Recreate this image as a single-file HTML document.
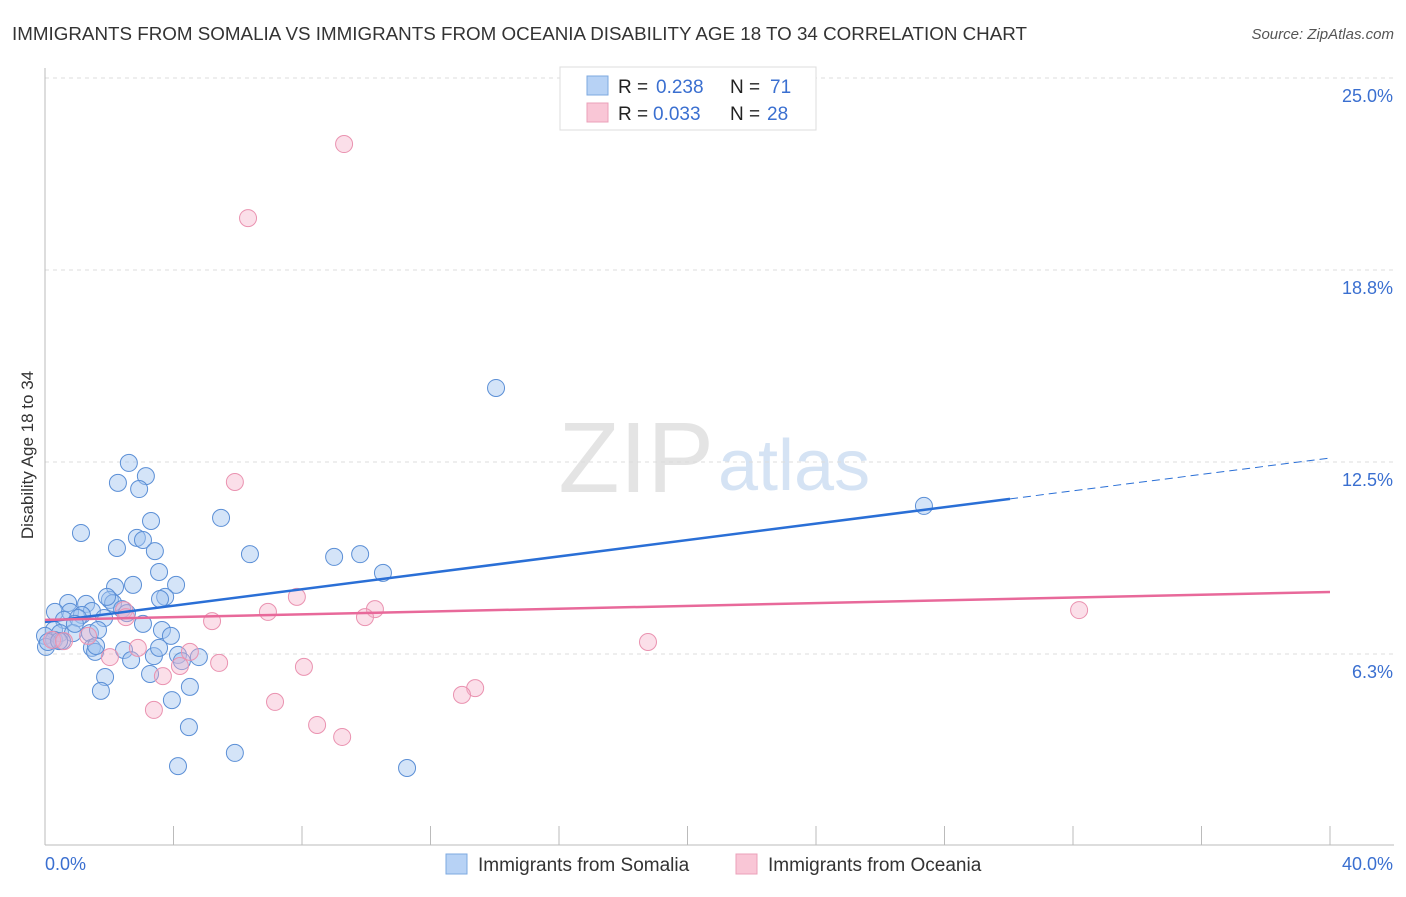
<!DOCTYPE html>
<html><head><meta charset="utf-8"><style>
body{margin:0;background:#fff;font-family:"Liberation Sans",sans-serif;}
svg text{font-family:"Liberation Sans",sans-serif;}
</style></head><body>
<svg id="chart" width="1406" height="892">
<text x="12" y="40" font-size="18" fill="#333" textLength="1015" lengthAdjust="spacingAndGlyphs">IMMIGRANTS FROM SOMALIA VS IMMIGRANTS FROM OCEANIA DISABILITY AGE 18 TO 34 CORRELATION CHART</text>
<text x="1394" y="39" font-size="15" fill="#555" font-style="italic" text-anchor="end">Source: ZipAtlas.com</text>
<text x="714" y="492" font-size="100" fill="#e4e4e4" text-anchor="end" font-family="Liberation Serif">ZIP</text>
<text x="718" y="490" font-size="72" fill="#d5e3f4">atlas</text>
<g id="grid"></g><g id="axes"></g><g id="pts"></g><g id="trend"></g>
<text x="33" y="455" font-size="17" fill="#333" text-anchor="middle" transform="rotate(-90 33 455)">Disability Age 18 to 34</text>
<g>
<rect x="560" y="67" width="256" height="63" fill="#fff" stroke="#ddd"/>
<rect x="587" y="76" width="21" height="19" fill="#b7d2f5" stroke="#7ea9e0"/>
<rect x="587" y="103" width="21" height="19" fill="#f9c6d6" stroke="#eba0b9"/>
<text x="618" y="93" font-size="19" fill="#222">R = <tspan x="656" fill="#3a6fd0">0.238</tspan></text>
<text x="730" y="93" font-size="19" fill="#222">N = <tspan x="770" fill="#3a6fd0">71</tspan></text>
<text x="618" y="120" font-size="19" fill="#222">R = <tspan x="653" fill="#3a6fd0">0.033</tspan></text>
<text x="730" y="120" font-size="19" fill="#222">N = <tspan x="767" fill="#3a6fd0">28</tspan></text>
</g>
<g>
<rect x="446" y="854" width="21" height="20" fill="#b7d2f5" stroke="#7ea9e0"/>
<text x="478" y="871" font-size="19" fill="#333">Immigrants from Somalia</text>
<rect x="736" y="854" width="21" height="20" fill="#f9c6d6" stroke="#eba0b9"/>
<text x="768" y="871" font-size="19" fill="#333">Immigrants from Oceania</text>
</g>
</svg>
<script>
const yTicks=[6.25,12.5,18.75,25];
const yTickLabels=["6.3%","12.5%","18.8%","25.0%"];
const xTickCount=10;
const xLabels=["0.0%","40.0%"];
const somaliaX=[2.61,2.27,3.14,2.93,3.30,1.12,2.24,2.86,3.05,3.42,5.48,6.38,9.00,9.81,10.52,14.04,27.36,3.55,2.74,4.08,2.18,3.74,3.58,2.02,2.12,1.28,0.72,0.31,0.78,1.46,1.84,2.40,2.55,0.59,1.15,1.03,0.28,0,0.47,0.87,1.40,1.65,3.05,3.64,3.92,0.28,0.53,0.03,1.46,1.56,1.59,2.46,2.68,3.39,3.55,4.14,4.26,4.79,3.27,1.87,1.74,4.51,3.95,4.48,5.91,4.14,11.27,0.09,0.44,0.93,1.93];
const somaliaY=[12.47,11.82,12.04,11.62,10.58,10.19,9.70,10.03,9.96,9.60,10.68,9.50,9.41,9.50,8.89,14.91,11.07,8.92,8.50,8.50,8.43,8.11,8.04,8.01,7.91,7.88,7.91,7.62,7.62,7.65,7.42,7.71,7.58,7.36,7.52,7.42,7.03,6.84,6.93,6.93,6.93,7.03,7.23,7.03,6.84,6.71,6.67,6.48,6.45,6.32,6.51,6.38,6.05,6.18,6.45,6.22,6.02,6.15,5.60,5.50,5.05,5.18,4.75,3.87,3.03,2.60,2.54,6.64,6.67,7.23,8.11];
const oceaniaX=[9.31,6.32,5.91,2.46,2.52,6.94,7.84,10.27,9.96,5.20,32.19,18.77,2.89,4.51,2.02,4.20,5.42,8.06,3.67,0.22,0.59,1.34,13.39,12.98,7.16,3.39,8.47,9.25];
const oceaniaY=[22.85,20.44,11.85,7.68,7.45,7.62,8.11,7.71,7.45,7.32,7.68,6.64,6.45,6.32,6.15,5.86,5.96,5.83,5.53,6.71,6.67,6.84,5.14,4.92,4.69,4.43,3.94,3.55];
const somaliaTrend=[7.29,12.63];
const oceaniaTrend=[7.36,8.27];
const somaliaSolidEnd=30.04;
const NS="http://www.w3.org/2000/svg";
const X=v=>45+v*32.125;
const Y=v=>654-(v-6.25)*30.72;
function mk(parent,tag,attrs){const e=document.createElementNS(NS,tag);for(const k in attrs)e.setAttribute(k,attrs[k]);document.getElementById(parent).appendChild(e);return e;}
yTicks.forEach((t,i)=>{
 const l=mk('grid','line',{x1:45,x2:1394,y1:Y(t),y2:Y(t),stroke:'#ddd','stroke-dasharray':'4,4'});
 
 
 const tx=mk('grid','text',{x:1393,y:Y(t)+24,'font-size':18,fill:'#3a6fd0','text-anchor':'end'});
 tx.textContent=yTickLabels[i];
 
 
});
const ax=mk('axes','line',{x1:45,x2:45,y1:68,y2:845,stroke:'#bbb'});


const bx=mk('axes','line',{x1:45,x2:1394,y1:845,y2:845,stroke:'#bbb'});


for(let i=0;i<=xTickCount;i++){
 const t=mk('axes','line',{x1:X(i*4),x2:X(i*4),y1:826,y2:845,stroke:'#bbb'});
 
 
}
[[45,'start'],[1393,'end']].forEach((p,i)=>{
 const t=mk('axes','text',{x:p[0],y:870,'font-size':18,fill:'#3a6fd0','text-anchor':p[1]});
 t.textContent=xLabels[i];
 
 
});
somaliaX.forEach((x,i)=>{
 const c=mk('pts','circle',{cx:X(x),cy:Y(somaliaY[i]),r:8.5,fill:'rgba(160,196,240,0.45)',stroke:'#5b8fd6','stroke-width':1});
 
 
});
oceaniaX.forEach((x,i)=>{
 const c=mk('pts','circle',{cx:X(x),cy:Y(oceaniaY[i]),r:8.5,fill:'rgba(246,176,200,0.4)',stroke:'#ea92b0','stroke-width':1});
 
 
});
const sAt=v=>somaliaTrend[0]+(somaliaTrend[1]-somaliaTrend[0])*v/40;
const t1=mk('trend','line',{x1:X(0),y1:Y(sAt(0)),x2:X(somaliaSolidEnd),y2:Y(sAt(somaliaSolidEnd)),stroke:'#2a6fd6','stroke-width':2.5});


const t2=mk('trend','line',{x1:X(somaliaSolidEnd),y1:Y(sAt(somaliaSolidEnd)),x2:X(40),y2:Y(sAt(40)),stroke:'#2a6fd6','stroke-width':1,'stroke-dasharray':'8,5'});


const t3=mk('trend','line',{x1:X(0),y1:Y(oceaniaTrend[0]),x2:X(40),y2:Y(oceaniaTrend[1]),stroke:'#e8699a','stroke-width':2.5});


</script>
</body></html>
